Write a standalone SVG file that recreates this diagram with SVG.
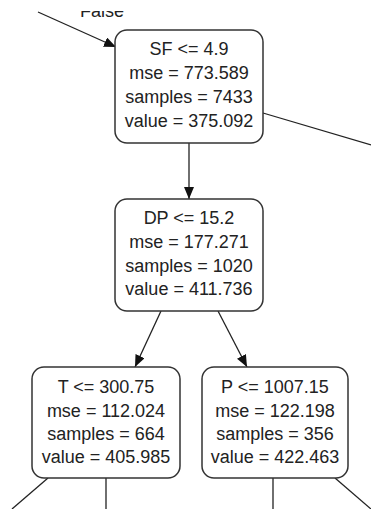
<svg xmlns="http://www.w3.org/2000/svg" width="371" height="509" viewBox="0 0 371 509">
<style>
.box{fill:#fff;stroke:#333;stroke-width:1.5}
.t{font-family:"Liberation Sans",Arial,sans-serif;font-size:18px;fill:#222;text-anchor:middle}
.e{stroke:#222;stroke-width:1.3;fill:none}
</style>
<defs>
<marker id="ah" markerWidth="12" markerHeight="10" refX="12" refY="5" orient="auto" markerUnits="userSpaceOnUse">
<path d="M0,0 L12,5 L0,10 Z" fill="#111"/>
</marker>
<clipPath id="topclip"><rect x="0" y="11" width="371" height="498"/></clipPath>
</defs>
<rect width="371" height="509" fill="#fff"/>
<g id="connectors">
<line class="e" x1="38" y1="12" x2="116" y2="47" marker-end="url(#ah)"/>
<text class="t" x="102" y="17" font-size="17" clip-path="url(#topclip)">False</text>
<line class="e" x1="263" y1="113" x2="371" y2="145"/>
<line class="e" x1="189" y1="143" x2="189" y2="199" marker-end="url(#ah)"/>
<line class="e" x1="161" y1="311" x2="135" y2="367" marker-end="url(#ah)"/>
<line class="e" x1="218" y1="311" x2="247" y2="367" marker-end="url(#ah)"/>
<line class="e" x1="48" y1="478" x2="12" y2="509"/>
<line class="e" x1="106" y1="478" x2="106" y2="509"/>
<line class="e" x1="273" y1="478" x2="273" y2="509"/>
<line class="e" x1="335" y1="478" x2="371" y2="509"/>
</g>
<g id="node-root">
<rect class="box" x="115" y="30" width="148" height="113" rx="12"/>
<text class="t" x="189" y="55">SF &lt;= 4.9</text>
<text class="t" x="189" y="79">mse = 773.589</text>
<text class="t" x="189" y="103">samples = 7433</text>
<text class="t" x="189" y="127">value = 375.092</text>
</g>
<g id="node-dp">
<rect class="box" x="115" y="199" width="148" height="112" rx="12"/>
<text class="t" x="189" y="224">DP &lt;= 15.2</text>
<text class="t" x="189" y="248">mse = 177.271</text>
<text class="t" x="189" y="272">samples = 1020</text>
<text class="t" x="189" y="295">value = 411.736</text>
</g>
<g id="node-t">
<rect class="box" x="32" y="367" width="148" height="111" rx="12"/>
<text class="t" x="106" y="393">T &lt;= 300.75</text>
<text class="t" x="106" y="417">mse = 112.024</text>
<text class="t" x="106" y="440">samples = 664</text>
<text class="t" x="106" y="463">value = 405.985</text>
</g>
<g id="node-p">
<rect class="box" x="202" y="367" width="146" height="111" rx="12"/>
<text class="t" x="275" y="393">P &lt;= 1007.15</text>
<text class="t" x="275" y="417">mse = 122.198</text>
<text class="t" x="275" y="440">samples = 356</text>
<text class="t" x="275" y="463">value = 422.463</text>
</g>
</svg>
